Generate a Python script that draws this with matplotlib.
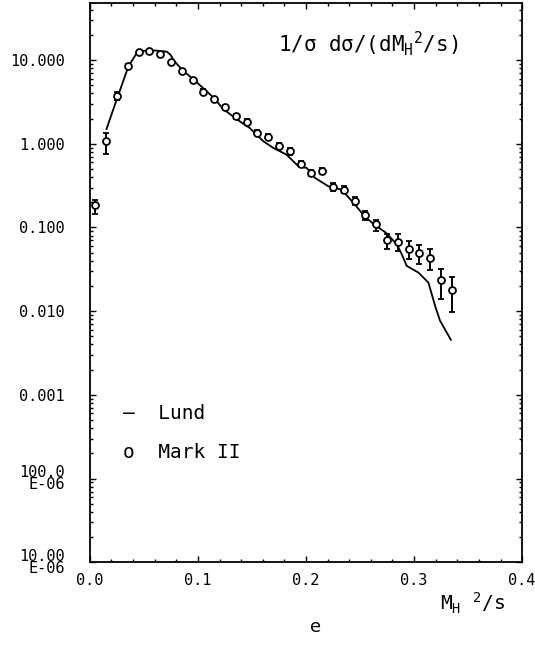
import numpy as np
import matplotlib.pyplot as plt
from matplotlib.ticker import FixedLocator, FixedFormatter, MultipleLocator, LogLocator, NullFormatter

plt.rcParams['font.family'] = ['DejaVu Sans Mono', 'DejaVu Sans']
plt.rcParams['mathtext.fontset'] = 'custom'
plt.rcParams['mathtext.rm'] = 'DejaVu Sans Mono'
plt.rcParams['mathtext.it'] = 'DejaVu Sans Mono'

# Mark II data: bin centres, values, error bar ends
mk_x = [0.005, 0.015, 0.025, 0.035, 0.045, 0.055, 0.065, 0.075, 0.085, 0.095,
        0.105, 0.115, 0.125, 0.135, 0.145, 0.155, 0.165, 0.175, 0.185, 0.195,
        0.205, 0.215, 0.225, 0.235, 0.245, 0.255, 0.265, 0.275, 0.285, 0.295,
        0.305, 0.315, 0.325, 0.335]
mk_y = [0.185, 1.09, 3.73, 8.5, 12.4, 12.8, 11.8, 9.4, 7.5, 5.7,
        4.2, 3.43, 2.73, 2.13, 1.84, 1.36, 1.22, 0.946, 0.81, 0.578,
        0.448, 0.469, 0.305, 0.283, 0.206, 0.1415, 0.109, 0.0707, 0.0676, 0.0557,
        0.0499, 0.0431, 0.0234, 0.0179]
mk_lo = [0.143, 0.76, 3.3, 8.0, 12.0, 12.4, 11.4, 9.0, 7.2, 5.4,
         3.95, 3.22, 2.55, 1.98, 1.71, 1.26, 1.13, 0.87, 0.74, 0.53,
         0.41, 0.43, 0.275, 0.255, 0.183, 0.124, 0.090, 0.0547, 0.0525, 0.0416,
         0.0363, 0.031, 0.0139, 0.0098]
mk_hi = [0.215, 1.33, 4.2, 9.0, 12.8, 13.2, 12.2, 9.8, 7.8, 6.0,
         4.45, 3.64, 2.91, 2.28, 1.97, 1.46, 1.31, 1.02, 0.88, 0.63,
         0.49, 0.51, 0.335, 0.311, 0.229, 0.159, 0.124, 0.083, 0.083, 0.0687,
         0.061, 0.0547, 0.0322, 0.0259]

# Lund curve
lund_x = [0.0154, 0.0247, 0.0358, 0.0432, 0.0494, 0.060, 0.071, 0.0745, 0.078,
          0.0855, 0.0957, 0.105, 0.115, 0.1235, 0.1327, 0.139, 0.148, 0.1605,
          0.1698, 0.182, 0.193, 0.2006, 0.2083, 0.2207, 0.233, 0.2438, 0.2546,
          0.264, 0.274, 0.284, 0.2886, 0.2932, 0.304, 0.3133, 0.3194, 0.324, 0.334]
lund_y = [1.50, 3.34, 8.5, 12.0, 12.9, 13.0, 12.6, 11.6, 9.8,
          7.6, 5.9, 4.6, 3.5, 2.59, 2.11, 1.84, 1.54, 1.07,
          0.89, 0.74, 0.537, 0.514, 0.391, 0.31, 0.283, 0.197, 0.134,
          0.106, 0.0865, 0.0628, 0.0478, 0.0347, 0.0289, 0.0219, 0.0116, 0.0077, 0.00455]

ytick_vals = [1e-5, 1e-4, 1e-3, 1e-2, 1e-1, 1, 10]
ytick_labels = ['10.00\nE-06', '100.0\nE-06', '0.001', '0.010', '0.100', '1.000', '10.000']
xtick_vals = [0.0, 0.1, 0.2, 0.3, 0.4]
xtick_labels = ['0.0', '0.1', '0.2', '0.3', '0.4']

fig = plt.figure(figsize=(5.35, 6.5), dpi=100)
ax = fig.add_axes([0.168, 0.135, 0.808, 0.860])

ax.plot(lund_x, lund_y, color='black', lw=1.3)
y = np.array(mk_y)
yerr = [y - np.array(mk_lo), np.array(mk_hi) - y]
ax.errorbar(mk_x, mk_y, yerr=yerr, fmt='o', ms=5, mfc='white', mec='black',
            mew=1.3, ecolor='black', elinewidth=1.4, capsize=2, capthick=1.2)

ax.set_yscale('log')
ax.set_xlim(0, 0.4)
ax.set_ylim(1e-5, 47.7)

ax.yaxis.set_major_locator(FixedLocator(ytick_vals))
ax.yaxis.set_major_formatter(FixedFormatter(ytick_labels))
ax.yaxis.set_minor_locator(LogLocator(base=10, subs=np.arange(2, 10)))
ax.yaxis.set_minor_formatter(NullFormatter())
ax.xaxis.set_major_locator(FixedLocator(xtick_vals))
ax.xaxis.set_major_formatter(FixedFormatter(xtick_labels))
ax.xaxis.set_minor_locator(MultipleLocator(0.02))

ax.tick_params(which='both', direction='in', top=True, right=True, width=1.0)
ax.tick_params(which='major', length=4.5)
ax.tick_params(which='minor', length=2.2)
ax.tick_params(axis='y', which='major', pad=18, labelsize=11)
ax.tick_params(axis='x', which='major', pad=8, labelsize=11)
for lab in ax.get_yticklabels():
    lab.set_linespacing(0.75)
for sp in ax.spines.values():
    sp.set_linewidth(1.3)

ax.text(0.435, 0.928, '1/σ dσ/(dM$_{\\mathrm{H}}$$^{2}$/s)', transform=ax.transAxes,
        fontsize=15, ha='left', va='center')
ax.text(0.076, 0.2666, '—  Lund', transform=ax.transAxes, fontsize=14,
        ha='left', va='center')
ax.text(0.076, 0.197, 'o  Mark II', transform=ax.transAxes, fontsize=14,
        ha='left', va='center')

fig.text(0.822, 0.072, 'M$_{\\mathrm{H}}$ $^{2}$/s', fontsize=14, ha='left', va='center')
fig.text(0.59, 0.035, 'e', fontsize=13, ha='center', va='center', family='DejaVu Sans')

fig.savefig('out.png', dpi=100)
